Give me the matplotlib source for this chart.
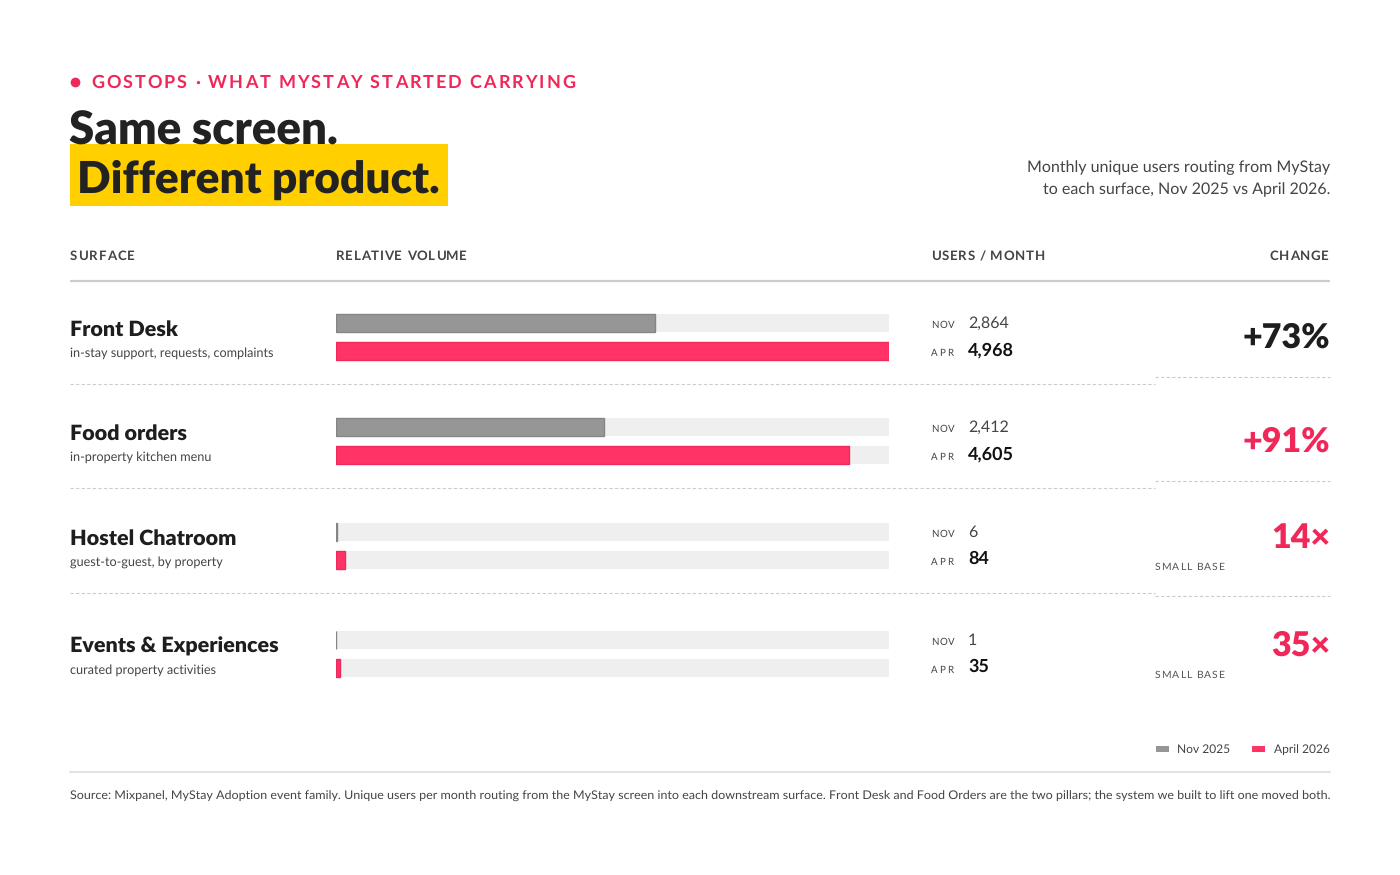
import matplotlib
matplotlib.use("Agg")
import matplotlib.pyplot as plt
from matplotlib.patches import Rectangle

plt.rcParams['font.family'] = ['Lato', 'DejaVu Sans']
plt.rcParams['text.hinting'] = 'no_hinting'

# data
surfaces = ["Front Desk", "Food orders", "Hostel Chatroom", "Events & Experiences"]
descriptions = ["in-stay support, requests, complaints", "in-property kitchen menu",
                "guest-to-guest, by property", "curated property activities"]
nov = [2864, 2412, 6, 1]
apr = [4968, 4605, 84, 35]
changes = ["+73%", "+91%", "14×", "35×"]
small_base = [False, False, True, True]
headers = ["SURFACE", "RELATIVE VOLUME", "USERS / MONTH", "CHANGE"]
legend_labels = ["Nov 2025", "April 2026"]
source = ("Source: Mixpanel, MyStay Adoption event family. Unique users per month routing from "
          "the MyStay screen into each downstream surface. Front Desk and Food Orders are the two "
          "pillars; the system we built to lift one moved both.")

PINK = '#ff3366'
PINK_TXT = '#f0285a'
GREY = '#969696'
DARK = '#1e1e1e'
MID = '#444444'

W, H = 1400, 875
fig = plt.figure(figsize=(14, 8.75), dpi=100)
fig.patch.set_facecolor('white')
ax = fig.add_axes([0, 0, 1, 1])
ax.set_xlim(0, W)
ax.set_ylim(H, 0)
ax.axis('off')
r = fig.canvas.get_renderer()


def ink(s, **kw):
    t = ax.text(0, 0, s, **kw)
    w = t.get_window_extent(r).width
    t.remove()
    return w


def adv(s, fontsize, **kw):
    # advance width of s, measured big to dodge rounding
    big = fontsize * 10
    return (ink('|' + s + '|', fontsize=big, **kw) - ink('||', fontsize=big, **kw)) / 10


def fit_size(s, target, fs, **kw):
    best, err = fs, 1e9
    for k in range(-30, 31):
        f = fs * (1 + k / 300)
        e = abs(ink(s, fontsize=f, **kw) - target)
        if e < err:
            best, err = f, e
    return best


def spaced(x, y, s, fontsize, spacing=0.0, ha='left', fit=None, **kw):
    # letter by letter, like css letter-spacing
    offs = [adv(s[:i], fontsize, **kw) for i in range(len(s))]
    natural = adv(s, fontsize, **kw)
    if fit is not None:
        spacing = (fit - natural) / (len(s) - 1)
    total = natural + spacing * (len(s) - 1)
    x0 = x - total if ha == 'right' else x
    for i, (ch, o) in enumerate(zip(s, offs)):
        ax.text(x0 + o + i * spacing, y, ch, ha='left', va='baseline', fontsize=fontsize, **kw)


# kicker
ax.plot([75], [82], 'o', color=PINK_TXT, ms=6)
spaced(91, 88, "GOSTOPS · WHAT MYSTAY STARTED CARRYING", 13, fit=484,
       fontweight='bold', color=PINK_TXT)

# title
fs1 = fit_size("Same screen.", 269, 33, fontweight='heavy')
ax.text(69, 145, "Same screen.", fontsize=fs1, fontweight='heavy', color='#222222', va='baseline')
fs2 = fit_size("Different product.", 363, 33, fontweight='heavy')
t2 = ax.text(77, 193, "Different product.", fontsize=fs2, fontweight='heavy', color='#222222',
             va='baseline', zorder=3)
x_end = t2.get_window_extent(r).x1
ax.add_patch(Rectangle((70, 144), x_end + 8 - 70, 62, color='#ffcf00', lw=0, zorder=2))

# subtitle
fsub = fit_size("Monthly unique users routing from MyStay", 303, 11.5)
ax.text(1330, 172, "Monthly unique users routing from MyStay", fontsize=fsub, color=MID,
        ha='right', va='baseline')
ax.text(1330, 194, "to each surface, Nov 2025 vs April 2026.", fontsize=fsub, color=MID,
        ha='right', va='baseline')

# column headers
hx = [70, 336, 931, 1329]
hw = [65, 131, 114, 60]
for lab, x, w in zip(headers, hx, hw):
    spaced(x, 260, lab, 9.5, fit=w, ha='right' if lab == "CHANGE" else 'left',
           fontweight='bold', color=MID)
ax.plot([70, 1330], [281, 281], color='#cccccc', lw=1.6, solid_capstyle='butt')

# rows
row_y = [323, 427, 532, 640]
sep_left = [384, 488, 593]
sep_right = [377, 481, 596]

bx = fig.add_axes([336 / W, 0, (889 - 336) / W, 1])
bx.set_xlim(0, max(apr))
bx.set_ylim(H, 0)
bx.axis('off')
bx.patch.set_alpha(0)
bar_h = 18
track = [max(apr)] * len(surfaces)
bx.barh(row_y, track, height=bar_h, color='#efefef', lw=0)
bx.barh([y + 28 for y in row_y], track, height=bar_h, color='#efefef', lw=0)
bx.barh(row_y, nov, height=bar_h, color=GREY, edgecolor='#858585', lw=1)
bx.barh([y + 28 for y in row_y], apr, height=bar_h, color=PINK, edgecolor='#ec2a5c', lw=1)

fname = fit_size("Events & Experiences", 209, 15.7, fontweight='heavy')
fdesc = fit_size(descriptions[0], 203, 9)
for i, y in enumerate(row_y):
    ax.text(70, y + 13, surfaces[i], fontsize=fname, fontweight='heavy', color=DARK, va='baseline')
    ax.text(70, y + 34, descriptions[i], fontsize=fdesc, color=MID, va='baseline')

    spaced(931, y + 5, "NOV", 7, fit=24, color=MID)
    spaced(931, y + 33, "APR", 7, fit=22, color=MID)
    ax.text(968, y + 5, f"{nov[i]:,}", fontsize=11.5, color=MID, va='baseline')
    ax.text(968, y + 32, f"{apr[i]:,}", fontsize=13, fontweight='bold', color='#111111',
            va='baseline')

    col = DARK if i == 0 else PINK_TXT
    if small_base[i]:
        ax.text(1330, y + 16, changes[i], fontsize=24.5, fontweight='heavy', color=col,
                ha='right', va='baseline')
        spaced(1155, y + 38, "SMALL BASE", 7.5, fit=69, color='#555555')
    else:
        ax.text(1330, y + 25, changes[i], fontsize=24.5, fontweight='heavy', color=col,
                ha='right', va='baseline')

for yl, yr in zip(sep_left, sep_right):
    ax.plot([70, 1155], [yl, yl], color='#cccccc', lw=0.8, ls=(0, (3, 2)))
    ax.plot([1155, 1330], [yr, yr], color='#cccccc', lw=0.8, ls=(0, (3, 2)))

# legend
fsl = fit_size(legend_labels[0], 53, 9.2)
ax.add_patch(Rectangle((1156, 746), 13, 6, color=GREY, lw=0))
ax.text(1177, 753, legend_labels[0], fontsize=fsl, color=MID, va='baseline')
ax.add_patch(Rectangle((1252, 746), 13, 6, color=PINK, lw=0))
ax.text(1330, 753, legend_labels[1], fontsize=fsl, color=MID, va='baseline', ha='right')

ax.plot([70, 1330], [772, 772], color='#dddddd', lw=1.2)
fss = fit_size(source, 1259, 9)
ax.text(70, 800, source, fontsize=fss, color=MID, va='baseline')

fig.savefig('out.png', dpi=100, facecolor='white')
